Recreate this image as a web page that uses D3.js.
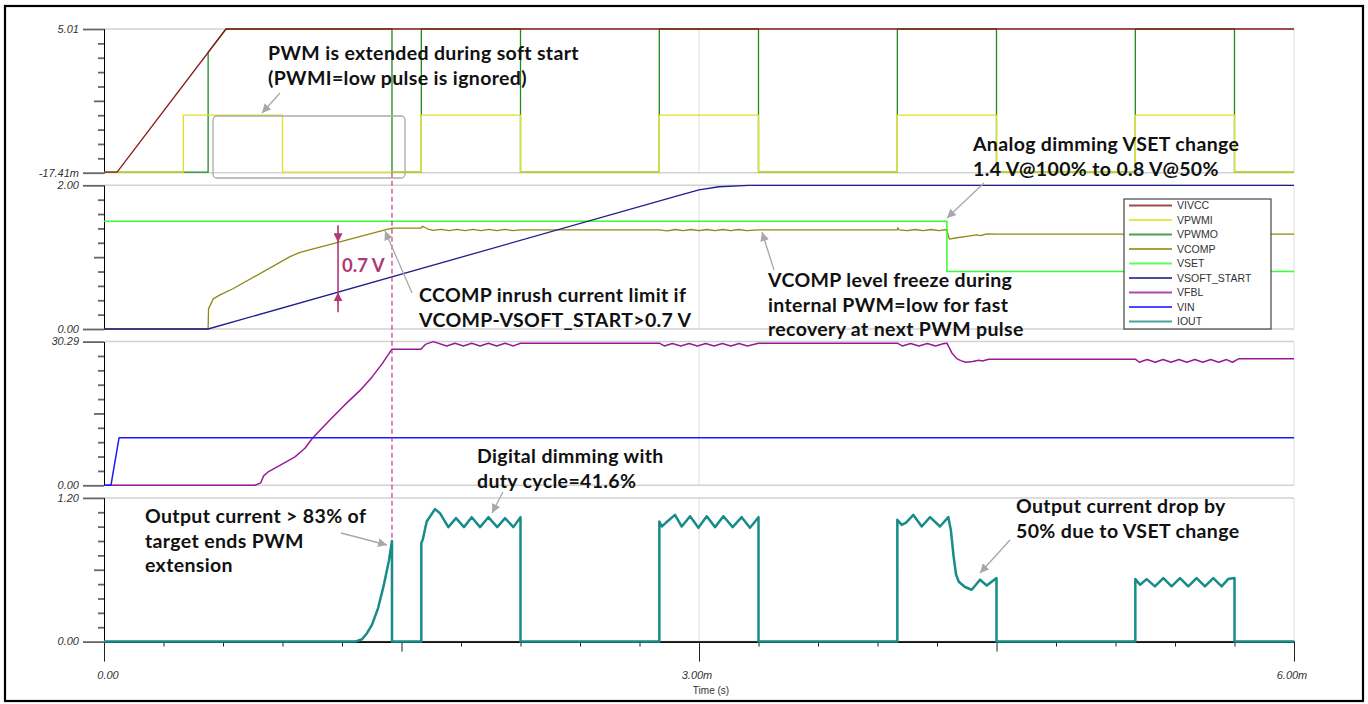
<!DOCTYPE html>
<html>
<head>
<meta charset="utf-8">
<script src="https://cdn.jsdelivr.net/npm/d3@7"></script>
<style>
  body { margin: 0; background: #fff; }
  svg { display: block; }
  .tick-label { font-family: "Liberation Sans", Arial, sans-serif; font-style: italic; font-size: 11px; fill: #333; }
  .legend text { font-family: "Liberation Sans", Arial, sans-serif; font-size: 10.5px; fill: #333; }
  .note { font-family: Lato, "Noto Sans", sans-serif; font-weight: 700; font-size: 19.5px; letter-spacing: 0.35px; fill: #111; }
</style>
</head>
<body>
<svg></svg>
<script>
// Transient simulation plot: four stacked panels sharing a time axis
const SVG = d3.select('svg');
const SVG_WIDTH = 1368;
const SVG_HEIGHT = 704;
const PLOT_LEFT = 104;
const PLOT_RIGHT = 1294;
const PANEL_TOP = 29;
const PANEL_HEIGHT = 143.7;
const PANEL_STEP = 156.3;

// Time axis (ms)
const timeDomain = [0, 6];
const timeMajorTicks = [0, 3, 6];
const timeMajorLabels = ['0.00', '3.00m', '6.00m'];
const timeMidTicks = [1.5, 4.5];

// Panel value ranges and their end labels
const panelRanges = [[-0.01741, 5.01], [0, 2.0], [0, 30.29], [0, 1.2]];
const panelTopLabels = ['5.01', '2.00', '30.29', '1.20'];
const panelBottomLabels = ['-17.41m', '0.00', '0.00', '0.00'];

// Series as [time ms, value]
const vivcc = [[0, 0], [0.066, 0], [0.615, 5.01], [6, 5.01]];

const vpwmi = [[0, 0], [0.4, 0], [0.4, 2.0], [0.9, 2.0], [0.9, 0], [1.6, 0], [1.6, 2.0], [2.1, 2.0], [2.1, 0],
  [2.8, 0], [2.8, 2.0], [3.3, 2.0], [3.3, 0], [4.0, 0], [4.0, 2.0], [4.5, 2.0], [4.5, 0],
  [5.2, 0], [5.2, 2.0], [5.7, 2.0], [5.7, 0], [6, 0]];

const vpwmo = [[0, 0], [0.525, 0], [0.525, 4.19], [0.615, 5.01], [1.452, 5.01], [1.452, 0], [1.6, 0], [1.6, 5.01],
  [2.1, 5.01], [2.1, 0], [2.8, 0], [2.8, 5.01], [3.3, 5.01], [3.3, 0], [4.0, 0], [4.0, 5.01], [4.5, 5.01], [4.5, 0],
  [5.2, 0], [5.2, 5.01], [5.7, 5.01], [5.7, 0], [6, 0]];

const vcomp = [[0, 0], [0.525, 0], [0.527, 0.28], [0.551, 0.42], [0.585, 0.475], [0.65, 0.56], [0.938, 1.007],
  [0.988, 1.067], [1.18, 1.207], [1.417, 1.38], [1.456, 1.403], [1.598, 1.403], [1.606, 1.43], [1.63, 1.395],
  [1.66, 1.372], [1.70, 1.388], [1.74, 1.37], [1.78, 1.386], [1.82, 1.37], [1.86, 1.386], [1.90, 1.37],
  [1.94, 1.386], [1.98, 1.37], [2.02, 1.386], [2.06, 1.37], [2.1, 1.38],
  [2.8, 1.38], [2.84, 1.367], [2.88, 1.385], [2.92, 1.368], [2.96, 1.385], [3.0, 1.368], [3.04, 1.385],
  [3.08, 1.368], [3.12, 1.385], [3.16, 1.368], [3.2, 1.385], [3.24, 1.368], [3.3, 1.38],
  [4.0, 1.38], [4.003, 1.41], [4.008, 1.38], [4.05, 1.368], [4.09, 1.385], [4.13, 1.368], [4.17, 1.385],
  [4.21, 1.37], [4.249, 1.385], [4.262, 1.25], [4.3, 1.27], [4.35, 1.29], [4.4, 1.31], [4.42, 1.30],
  [4.45, 1.325], [4.5, 1.32], [6, 1.32]];

const vset = [[0, 1.5], [4.25, 1.5], [4.25, 0.8], [6, 0.8]];

const vsoftStart = [[0, 0], [0.525, 0], [2.9, 1.86], [3.0, 1.935], [3.1, 1.98], [3.25, 2.0], [6, 2.0]];

const vfbl = [[0, 0], [0.761, 0], [0.79, 0.5], [0.805, 2.0], [0.83, 2.9], [0.887, 4.2], [0.963, 6.0],
  [1.013, 7.8], [1.049, 9.8], [1.089, 11.6], [1.14, 13.8], [1.215, 17.0], [1.291, 20.0], [1.351, 22.8],
  [1.402, 25.6], [1.452, 28.69], [1.598, 28.69], [1.62, 29.7], [1.66, 30.29], [1.728, 29.38], [1.77, 29.95],
  [1.812, 29.38], [1.854, 29.95], [1.896, 29.38], [1.938, 29.95], [1.98, 29.38], [2.022, 29.95],
  [2.064, 29.38], [2.1, 29.95],
  [2.8, 29.95], [2.825, 29.38], [2.866, 29.9], [2.908, 29.38], [2.95, 29.9], [2.992, 29.38], [3.034, 29.9],
  [3.076, 29.38], [3.118, 29.9], [3.16, 29.38], [3.202, 29.9], [3.244, 29.38], [3.3, 29.95],
  [4.0, 29.95], [4.025, 29.38], [4.067, 29.9], [4.109, 29.38], [4.151, 29.9], [4.193, 29.38], [4.235, 29.9],
  [4.25, 29.95], [4.275, 27.9], [4.3, 26.7], [4.32, 26.28], [4.345, 25.94], [4.38, 26.1], [4.41, 26.35],
  [4.43, 26.2], [4.46, 26.58],
  [5.2, 26.58], [5.22, 25.94], [5.26, 26.5], [5.3, 25.94], [5.34, 26.5], [5.38, 25.94], [5.42, 26.5],
  [5.46, 25.94], [5.5, 26.5], [5.54, 25.94], [5.58, 26.5], [5.62, 25.94], [5.66, 26.5], [5.69, 25.94],
  [5.72, 26.65], [6, 26.65]];

const vin = [[0, 0], [0.035, 0], [0.076, 10.04], [6, 10.04]];

const iout = [[0, 0], [1.266, 0], [1.301, 0.02], [1.326, 0.07], [1.351, 0.14], [1.382, 0.28], [1.412, 0.48],
  [1.437, 0.68], [1.452, 0.84], [1.452, 0],
  [1.6, 0], [1.6, 0.823], [1.607, 0.85], [1.627, 1.003], [1.669, 1.106], [1.694, 1.072], [1.736, 0.956],
  [1.775, 1.031], [1.815, 0.956], [1.854, 1.039], [1.896, 0.956], [1.938, 1.039], [1.983, 0.956],
  [2.022, 1.031], [2.064, 0.956], [2.1, 1.039], [2.1, 0],
  [2.8, 0], [2.8, 1.003], [2.812, 0.961], [2.834, 0.994], [2.879, 1.058], [2.913, 0.961], [2.955, 1.047],
  [2.997, 0.95], [3.039, 1.047], [3.081, 0.956], [3.123, 1.047], [3.17, 0.956], [3.215, 1.039],
  [3.257, 0.95], [3.3, 1.039], [3.3, 0],
  [4.0, 0], [4.0, 1.017], [4.022, 0.975], [4.044, 0.994], [4.081, 1.058], [4.123, 0.961], [4.165, 1.039],
  [4.215, 0.961], [4.257, 1.039], [4.27, 0.93], [4.283, 0.72], [4.296, 0.56], [4.31, 0.5], [4.341, 0.456],
  [4.375, 0.433], [4.417, 0.517], [4.451, 0.469], [4.5, 0.531], [4.5, 0],
  [5.2, 0], [5.2, 0.522], [5.224, 0.475], [5.257, 0.522], [5.299, 0.461], [5.341, 0.531], [5.383, 0.461],
  [5.425, 0.531], [5.467, 0.461], [5.509, 0.531], [5.551, 0.461], [5.593, 0.531], [5.635, 0.461],
  [5.668, 0.522], [5.7, 0.531], [5.7, 0], [6, 0]];

// PWM extension end marker (ms)
const extensionEnd = 1.452;

const legendNames = ['VIVCC', 'VPWMI', 'VPWMO', 'VCOMP', 'VSET', 'VSOFT_START', 'VFBL', 'VIN', 'IOUT'];
const seriesInfo = {
  VIVCC:       { panel: 0, data: vivcc,      color: '#8b1c1c', width: 1.3 },
  VPWMI:       { panel: 0, data: vpwmi,      color: '#e0e020', width: 1.3 },
  VPWMO:       { panel: 0, data: vpwmo,      color: '#1f8a1f', width: 1.3 },
  VCOMP:       { panel: 1, data: vcomp,      color: '#8f8912', width: 1.3 },
  VSET:        { panel: 1, data: vset,       color: '#33ff33', width: 1.5 },
  VSOFT_START: { panel: 1, data: vsoftStart, color: '#1e1e8c', width: 1.3 },
  VFBL:        { panel: 2, data: vfbl,       color: '#991a99', width: 1.5 },
  VIN:         { panel: 2, data: vin,        color: '#1a1aff', width: 1.5 },
  IOUT:        { panel: 3, data: iout,       color: '#178c88', width: 2.5 }
};
const drawOrder = ['VPWMO', 'VPWMI', 'VIVCC', 'VCOMP', 'VSET', 'VSOFT_START', 'VFBL', 'VIN', 'IOUT'];

SVG.attr('width', SVG_WIDTH).attr('height', SVG_HEIGHT);

//Scales
const xScale = d3.scaleLinear().domain(timeDomain).range([PLOT_LEFT, PLOT_RIGHT]);
const yScales = panelRanges.map((range, i) => d3.scaleLinear()
  .domain(range)
  .range([PANEL_TOP + i * PANEL_STEP + PANEL_HEIGHT, PANEL_TOP + i * PANEL_STEP]));

//Outer frame
SVG.append('rect').attr('x', 5).attr('y', 6).attr('width', 1358).attr('height', 695)
   .attr('fill', 'none').attr('stroke', '#000').attr('stroke-width', 2.2);

//Panel grid and y axes
yScales.forEach((y, i) => {
  const [lo, hi] = panelRanges[i];
  const step = (hi - lo) / 10;
  const g = SVG.append('g');
  [lo, hi].forEach(v => g.append('line')
    .attr('x1', PLOT_LEFT).attr('x2', PLOT_RIGHT)
    .attr('y1', y(v)).attr('y2', y(v))
    .attr('stroke', '#d2d2d2').attr('stroke-width', 1.5));
  [3, 6].forEach(t => g.append('line')
    .attr('x1', xScale(t)).attr('x2', xScale(t))
    .attr('y1', y(lo)).attr('y2', y(hi))
    .attr('stroke', '#dcdcdc').attr('stroke-width', 1));

  const minor = d3.range(1, 10).filter(k => k !== 5).map(k => lo + k * step);
  const axisG = SVG.append('g').attr('transform', `translate(${PLOT_LEFT},0)`);
  axisG.append('g').call(d3.axisLeft(y).tickValues(minor).tickSize(6).tickFormat('').tickSizeOuter(0));
  axisG.append('g').call(d3.axisLeft(y).tickValues([lo + 5 * step]).tickSize(10).tickFormat('').tickSizeOuter(0));
  axisG.append('g').call(d3.axisLeft(y).tickValues([lo, hi]).tickSize(21).tickFormat('').tickSizeOuter(0));
  axisG.selectAll('.domain').attr('stroke', '#000');
  axisG.selectAll('.tick line').attr('stroke', '#444');
  axisG.selectAll('g:last-child .tick line').attr('stroke', '#666').attr('stroke-width', 1.8);

  SVG.append('text').attr('class', 'tick-label').attr('x', 79).attr('y', y(hi)).attr('dy', '0.35em')
     .style('text-anchor', 'end').text(panelTopLabels[i]);
  SVG.append('text').attr('class', 'tick-label').attr('x', 79).attr('y', y(lo)).attr('dy', '0.35em')
     .style('text-anchor', 'end').text(panelBottomLabels[i]);
});

//Time axis
const axisY = yScales[3].range()[0];
const timeMinor = d3.range(0, 21).map(k => k * 0.3).filter(t => !timeMajorTicks.concat(timeMidTicks).some(m => Math.abs(m - t) < 1e-6));
const xAxisG = SVG.append('g').attr('transform', `translate(0,${axisY})`);
xAxisG.append('g').call(d3.axisBottom(xScale).tickValues(timeMinor).tickSize(5).tickFormat('').tickSizeOuter(0));
xAxisG.append('g').call(d3.axisBottom(xScale).tickValues(timeMidTicks).tickSize(10).tickFormat('').tickSizeOuter(0));
xAxisG.append('g').call(d3.axisBottom(xScale).tickValues(timeMajorTicks).tickSize(20).tickFormat('').tickSizeOuter(0));
xAxisG.selectAll('.domain').attr('stroke', '#000');
xAxisG.selectAll('.tick line').attr('stroke', '#222');

timeMajorTicks.forEach((t, i) => {
  SVG.append('text').attr('class', 'tick-label')
     .attr('x', xScale(t) + (i === 0 ? 4 : -2)).attr('y', axisY + 37)
     .style('text-anchor', 'middle').text(timeMajorLabels[i]);
});
SVG.append('text').attr('x', xScale(3) + 12).attr('y', axisY + 52)
   .style('text-anchor', 'middle').style('font-family', '"Liberation Sans", Arial, sans-serif')
   .style('font-size', '10px').style('fill', '#333').text('Time (s)');

//Traces
const line = d3.line().x(d => xScale(d[0]));
drawOrder.forEach(name => {
  const s = seriesInfo[name];
  const y = yScales[s.panel];
  SVG.append('path')
     .attr('d', line.y(d => y(d[1]))(s.data))
     .attr('fill', 'none')
     .attr('stroke', s.color)
     .attr('stroke-width', s.width)
     .attr('stroke-linejoin', 'round');
});

//Dashed marker where the PWM extension ends
SVG.append('line')
   .attr('x1', xScale(extensionEnd)).attr('x2', xScale(extensionEnd))
   .attr('y1', yScales[0](panelRanges[0][0])).attr('y2', yScales[3](0.84))
   .attr('stroke', '#c8348a').attr('stroke-width', 1.2).attr('stroke-dasharray', '5,3');

//Annotation box around the ignored PWMI low pulse
SVG.append('rect').attr('x', 213).attr('y', 116).attr('width', 192).attr('height', 62).attr('rx', 4)
   .attr('fill', 'none').attr('stroke', '#aaa').attr('stroke-width', 1.3);

//0.7 V measurement arrow
const defs = SVG.append('defs');
defs.append('marker').attr('id', 'grayHead').attr('viewBox', '0 0 10 10').attr('refX', 10).attr('refY', 5)
    .attr('markerWidth', 9).attr('markerHeight', 9).attr('markerUnits', 'userSpaceOnUse').attr('orient', 'auto')
    .append('path').attr('d', 'M0,0 L10,5 L0,10 z').attr('fill', '#a8a8a8');
defs.append('marker').attr('id', 'pinkHead').attr('viewBox', '0 0 10 10').attr('refX', 10).attr('refY', 5)
    .attr('markerWidth', 9).attr('markerHeight', 9).attr('markerUnits', 'userSpaceOnUse').attr('orient', 'auto')
    .append('path').attr('d', 'M0,0 L10,5 L0,10 z').attr('fill', '#b03878');

const gapX = xScale(1.18);
const gapTop = yScales[1](1.207);
const gapBottom = yScales[1](0.51);
SVG.append('line').attr('x1', gapX).attr('x2', gapX).attr('y1', gapTop - 17).attr('y2', gapBottom + 20)
   .attr('stroke', '#b03878').attr('stroke-width', 1.6);
SVG.append('line').attr('x1', gapX).attr('x2', gapX).attr('y1', gapTop - 10).attr('y2', gapTop)
   .attr('stroke', '#b03878').attr('marker-end', 'url(#pinkHead)');
SVG.append('line').attr('x1', gapX).attr('x2', gapX).attr('y1', gapBottom + 10).attr('y2', gapBottom)
   .attr('stroke', '#b03878').attr('marker-end', 'url(#pinkHead)');
SVG.append('text').attr('class', 'note').attr('x', gapX + 4).attr('y', 272)
   .style('fill', '#b03878').style('font-size', '18.5px').style('letter-spacing', '0px').text('0.7 V');

//Callouts: [text lines, text x, first baseline, arrow from, arrow tip]
const notes = [
  [['PWM is extended during soft start', '(PWMI=low pulse is ignored)'], 268, 60, [280, 93], [262, 113]],
  [['Analog dimming VSET change', '1.4 V@100% to 0.8 V@50%'], 973, 151, [984, 183], [947, 218]],
  [['CCOMP inrush current limit if', 'VCOMP-VSOFT_START>0.7 V'], 419, 302, [412, 293], [385, 231]],
  [['VCOMP level freeze during', 'internal PWM=low for fast', 'recovery at next PWM pulse'], 768, 287, [774, 270], [762, 232]],
  [['Digital dimming with', 'duty cycle=41.6%'], 477, 463, [503, 492], [492, 513]],
  [['Output current > 83% of', 'target ends PWM', 'extension'], 145, 523, [341, 533], [387, 545]],
  [['Output current drop by', '50% due to VSET change'], 1016, 513, [1010, 540], [980, 573]]
];
notes.forEach(([lines, tx, ty, from, tip]) => {
  const text = SVG.append('text').attr('class', 'note').attr('x', tx).attr('y', ty);
  lines.forEach((l, i) => text.append('tspan').attr('x', tx).attr('dy', i === 0 ? 0 : 24.5).text(l));
  SVG.append('line').attr('x1', from[0]).attr('y1', from[1]).attr('x2', tip[0]).attr('y2', tip[1])
     .attr('stroke', '#a8a8a8').attr('stroke-width', 1.3).attr('marker-end', 'url(#grayHead)');
});

//Legend
const legend = SVG.append('g').attr('class', 'legend').attr('transform', 'translate(1124,199)');
legend.append('rect').attr('width', 147).attr('height', 130).attr('fill', '#fff').attr('stroke', '#444').attr('stroke-width', 1.2);
legendNames.forEach((name, i) => {
  const row = legend.append('g').attr('transform', `translate(0,${6.5 + i * 14.5})`);
  row.append('line').attr('x1', 5).attr('x2', 48).attr('stroke', seriesInfo[name].color)
     .attr('stroke-width', 2).attr('stroke-opacity', 0.8);
  row.append('text').attr('x', 53).attr('dy', '0.35em').text(name);
});
</script>
</body>
</html>
